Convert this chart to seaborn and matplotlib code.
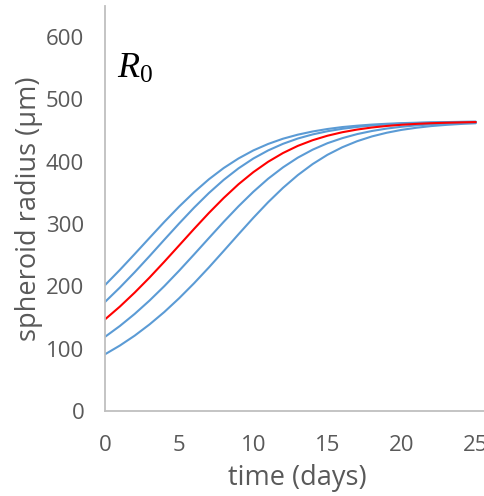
import numpy as np
import pandas as pd
import matplotlib
matplotlib.use("Agg")
import matplotlib.pyplot as plt
import seaborn as sns

days = list(range(26))

curve_low = [91, 105.0, 120.9, 138.9, 158.9, 181.0, 204.9, 230.3, 256.8, 283.6, 310.0,
             335.1, 358.1, 378.6, 396.3, 411.2, 423.3, 433.0, 440.7, 446.6, 451.2,
             454.6, 457.3, 459.2, 460.7, 461.8]
curve_midlow = [119, 136.4, 155.8, 177.2, 200.4, 225.2, 251.1, 277.4, 303.5, 328.5, 351.8,
                372.8, 391.0, 406.6, 419.4, 429.8, 437.9, 444.4, 449.4, 453.3, 456.2,
                458.4, 460.0, 461.3, 462.2, 462.9]
curve_red = [147, 167.5, 190.0, 214.1, 239.6, 265.8, 292.1, 317.7, 341.8, 363.9, 383.3,
             400.0, 414.0, 425.5, 434.6, 441.8, 447.4, 451.7, 455.0, 457.5, 459.4,
             460.8, 461.9, 462.6, 463.2, 463.7]
curve_midhigh = [175, 198.1, 222.7, 248.5, 274.9, 301.0, 326.2, 349.7, 370.9, 389.4, 405.2,
                 418.2, 428.8, 437.3, 443.9, 449.0, 452.9, 455.9, 458.2, 459.9, 461.2,
                 462.1, 462.9, 463.4, 463.8, 464.1]
curve_high = [202, 226.4, 251.9, 277.8, 303.5, 328.1, 351.0, 371.8, 389.9, 405.3, 418.2,
              428.6, 437.0, 443.5, 448.6, 452.6, 455.7, 457.9, 459.7, 461.0, 462.0,
              462.7, 463.3, 463.7, 464.1, 464.3]

series_names = ["low", "midlow", "red", "midhigh", "high"]
series_values = [curve_low, curve_midlow, curve_red, curve_midhigh, curve_high]

x_ticks = [0, 5, 10, 15, 20, 25]
y_ticks = [0, 100, 200, 300, 400, 500, 600]

rows = []
for name, vals in zip(series_names, series_values):
    for d, v in zip(days, vals):
        rows.append({"time": d, "radius": v, "curve": name})
df = pd.DataFrame(rows)

sns.set_style("white")
plt.rcParams["font.family"] = ["Open Sans", "DejaVu Sans"]
plt.rcParams["mathtext.fontset"] = "custom"
plt.rcParams["mathtext.it"] = "Liberation Serif:italic"
plt.rcParams["mathtext.rm"] = "Liberation Serif"

fig = plt.figure(figsize=(4.85, 4.96), dpi=100)
ax = fig.add_axes([105 / 485, 85 / 496, 385.6 / 485, 405 / 496])

blue = "#5B9BD5"
palette = {"low": blue, "midlow": blue, "red": "#FF0000", "midhigh": blue, "high": blue}
order = ["low", "midlow", "midhigh", "high", "red"]
sns.lineplot(data=df, x="time", y="radius", hue="curve", hue_order=order,
             palette=palette, linewidth=1.5, legend=False, ax=ax)

ax.set_xlim(0, 26)
ax.set_ylim(0, 650)
ax.set_xticks(x_ticks)
ax.set_yticks(y_ticks)

grey = "#BFBFBF"
txt = "#595959"
for s in ["top", "right"]:
    ax.spines[s].set_visible(False)
for s in ["left", "bottom"]:
    ax.spines[s].set_color(grey)
    ax.spines[s].set_linewidth(1.3)
ax.tick_params(axis="both", direction="out", length=5, width=1.3, color=grey,
               labelcolor=txt, labelsize=16, pad=10)
ax.tick_params(axis="x", pad=12)

ax.set_xlabel("time (days)", fontsize=19.5, color=txt, labelpad=6)
ax.set_ylabel("spheroid radius (μm)", fontsize=19.5, color=txt, labelpad=2)

ax.text(0.8, 535, r"$R_0$", fontsize=26, color="black", ha="left", va="baseline")

fig.savefig("out.png", dpi=100)
